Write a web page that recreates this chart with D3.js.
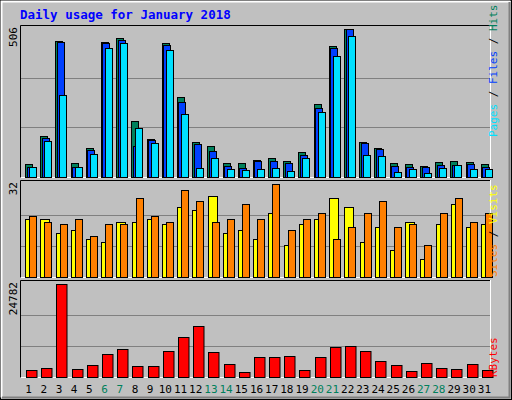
<!DOCTYPE html><html><head><meta charset="utf-8">
<script src="https://cdn.jsdelivr.net/npm/d3@7"></script>
<style>body{margin:0;background:#fff}svg{display:block}text{font-family:"DejaVu Sans Mono",monospace}</style>
</head><body><svg id="c" width="512" height="400"></svg>
<script>
const days = d3.range(1,32);
const weekend = [6,7,13,14,20,21,27,28];
const hits  = [42,139,465,46,97,461,475,190,128,458,272,118,104,46,46,56,63,53,84,248,448,506,118,97,46,42,35,49,53,49,42];
const files = [34,131,461,32,90,458,467,105,125,451,255,111,87,35,29,53,53,46,73,235,441,506,115,94,35,32,32,39,39,42,32];
const pages = [32,121,279,32,77,441,458,166,115,434,214,29,63,25,22,25,29,18,63,221,413,482,73,70,15,25,11,29,39,25,25];
const sites = [20,20,15,16,13,12,19,19,20,18,24,23,28,15,16,13,22,11,18,20,27,24,12,17,9,19,6,18,25,17,18];
const visits= [21,19,18,20,14,18,18,27,21,19,30,26,19,20,25,20,32,16,20,22,13,17,22,26,17,18,11,22,27,19,22];
const kbytes= [1718,2261,24782,1990,3075,6060,7417,2804,2804,6874,10673,13657,6603,3346,1176,5246,5246,5517,1718,5246,7959,8231,6874,4160,3075,1447,3618,2261,1990,3346,1718];
const maxLabels = ["506","32","24782"];

const svg = d3.select("#c");
svg.append("rect").attr("x",0).attr("y",0).attr("width",512).attr("height",400).attr("fill","#c0c0c0");
svg.append("rect").attr("x",0.5).attr("y",0.5).attr("width",511).attr("height",399).attr("fill","none").attr("stroke","#000");
svg.append("path").attr("d","M1.5,397.5V1.5H510.5").attr("stroke","#fff").attr("stroke-width",2).attr("fill","none");
svg.append("path").attr("d","M2,397.5H509.5V2").attr("stroke","#808080").attr("stroke-width",2).attr("fill","none");

svg.append("text").attr("x",20).attr("y",19).attr("fill","#0000ff").attr("font-weight","bold").attr("font-size","12.5px").text("Daily usage for January 2018");

const x = d3.scaleBand().domain(days).range([20,491]).paddingInner(0).paddingOuter(0);
const bw = x.bandwidth();

function panel(y0,y1,max){
  svg.append("rect").attr("x",20).attr("y",y0).attr("width",471).attr("height",y1-y0).attr("fill","#c0c0c0");
  svg.append("path").attr("d",`M20.5,${y1}V${y0+0.5}H491`).attr("stroke","#000").attr("fill","none");
  svg.append("path").attr("d",`M20.5,${y1-0.5}H490.5V${y0}`).attr("stroke","#fff").attr("fill","none");
  const y = d3.scaleLinear().domain([0,max]).range([y1-1.5,y0+4]);
  [max/3,2*max/3].forEach(v=>svg.append("line").attr("x1",21).attr("x2",490).attr("y1",Math.round(y(v))+0.5).attr("y2",Math.round(y(v))+0.5).attr("stroke","#808080"));
  return y;
}
function bars(data,y,off,w,color){
  svg.append("g").selectAll("rect").data(data).join("rect")
    .attr("x",(d,i)=>Math.round(x(days[i])+off)+0.5).attr("y",d=>Math.round(y(d))+0.5)
    .attr("width",w).attr("height",d=>Math.max(0,Math.round(y(0))-Math.round(y(d))))
    .attr("fill",color).attr("stroke","#000");
}
const y1 = panel(25,178,506);
bars(hits,y1,5,7,"#00805c");
bars(files,y1,6.5,7,"#0040ff");
bars(pages,y1,9,7,"#00e0ff");
const y2 = panel(180,278,32);
bars(sites,y2,5.3,9,"#ffff00");
bars(visits,y2,9.3,7,"#ff8000");
const y3 = panel(280,378,24782);
bars(kbytes,y3,6,10.5,"#ff0000");

[[maxLabels[0],25],[maxLabels[1],180],[maxLabels[2],280]].forEach(([t,yy])=>{
  svg.append("text").attr("transform",`translate(17,${yy+2}) rotate(-90)`).attr("text-anchor","end").attr("font-size","11px").attr("fill","#000").text(t);
});
function rlab(parts,ybottom){
  const t = svg.append("text").attr("transform",`translate(497,${ybottom}) rotate(-90)`).attr("font-size","11px");
  parts.forEach(([s,c])=>t.append("tspan").attr("fill",c).text(s));
}
rlab([["Pages","#00e0ff"],[" / ","#000"],["Files","#0040ff"],[" / ","#000"],["Hits","#00805c"]],137);
rlab([["Sites","#ff8000"],[" / ","#000"],["Visits","#ffff00"]],277);
rlab([["KBytes","#ff0000"]],377);

svg.append("g").selectAll("text").data(days).join("text")
  .attr("x",d=>x(d)+bw/2+1).attr("y",393).attr("text-anchor","middle").attr("font-size","11px")
  .attr("fill",d=>weekend.includes(d)?"#00805c":"#000").text(d=>d);
</script></body></html>
